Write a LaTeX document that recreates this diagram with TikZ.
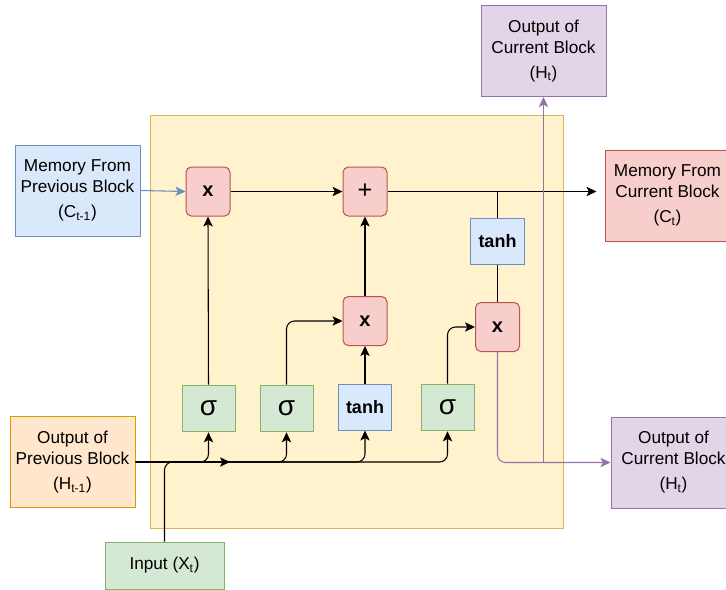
\documentclass[tikz,border=0pt]{standalone}
\usepackage{fontspec}
\setmainfont{Liberation Sans}
\usetikzlibrary{arrows.meta}
\definecolor{yfill}{HTML}{FFF2CC}
\definecolor{ydraw}{HTML}{D6B656}
\definecolor{bfill}{HTML}{DAE8FC}
\definecolor{bdraw}{HTML}{6C8EBF}
\definecolor{rfill}{HTML}{F8CECC}
\definecolor{rdraw}{HTML}{B85450}
\definecolor{gfill}{HTML}{D5E8D4}
\definecolor{gdraw}{HTML}{82B366}
\definecolor{ofill}{HTML}{FFE6CC}
\definecolor{odraw}{HTML}{D79B00}
\definecolor{pfill}{HTML}{E1D5E7}
\definecolor{pdraw}{HTML}{9673A6}
\begin{document}
\begin{tikzpicture}[x=0.75pt, y=-0.75pt,
		box/.style = {draw, line width=0.75pt, align=center, inner sep=0pt, font=\fontsize{12.9}{15.75}\selectfont},
		info/.style = {box, minimum width=93.75pt, minimum height=68.25pt},
		op/.style = {box, rounded corners=4pt, fill=rfill, draw=rdraw, minimum width=33pt, minimum height=36.75pt, font=\fontsize{15}{15}\selectfont\bfseries},
		gate/.style = {box, fill=gfill, draw=gdraw, minimum width=39.75pt, minimum height=35pt, font=\fontsize{21}{21}\selectfont},
		act/.style = {box, fill=bfill, draw=bdraw, minimum width=40pt, minimum height=34.5pt, font=\fontsize{13.5}{13.5}\selectfont\bfseries},
		arr/.style = {-{Stealth[length=7.5pt,width=7pt,inset=1.8pt]}, line width=0.8pt},
		parr/.style = {arr, draw=pdraw}]
		\useasboundingbox (0,0) rectangle (726,590);
		% cell
		\node[draw=ydraw, fill=yfill, line width=0.75pt, minimum width=309.75pt, minimum height=309.75pt] (cell) at (356.5,321.5) {};
		% inputs and outputs
		\node[info, fill=bfill, draw=bdraw] (cprev) at (77.5,190.5) {Memory From\\Previous Block\\[3pt](C\textsubscript{t-1})};
		\node[info, fill=ofill, draw=odraw] (hprev) at (72.5,462) {Output of\\Previous Block\\[3pt](H\textsubscript{t-1})};
		\node[box, fill=gfill, draw=gdraw, minimum width=89.25pt, minimum height=35.25pt] (xin) at (164.5,565.5) {Input (X\textsubscript{t})};
		\node[info, fill=rfill, draw=rdraw] (ccur) at (667.5,195.5) {Memory From\\Current Block\\[3pt](C\textsubscript{t})};
		\node[info, fill=pfill, draw=pdraw] (htop) at (543.5,51) {Output of\\Current Block\\[3pt](H\textsubscript{t})};
		\node[info, fill=pfill, draw=pdraw] (hbot) at (673.5,462.5) {Output of\\Current Block\\[3pt](H\textsubscript{t})};
		% operations
		\node[op] (mul1) at (208,191.5) {x};
		\node[op, font=\fontsize{19}{19}\selectfont] (add) at (365,191.5) {\raisebox{-2pt}{+}};
		\node[op] (mul2) at (365,321) {x};
		\node[op] (mul3) at (497.5,327) {x};
		\node[act] (tanh2) at (497.5,241) {tanh};
		% gates
		\node[gate] (sig1) at (208.5,408.5) {σ};
		\node[gate] (sig2) at (286.5,408.5) {σ};
		\node[act] (tanh1) at (365,407) {tanh};
		\node[gate] (sig3) at (447.5,407.5) {σ};
		\coordinate (mid) at (230,462);
		% connectors
		\draw[arr, draw=bdraw] (cprev.east) -- (mul1.west);
		\draw[arr] (mul1.east) -- (add.west);
		\draw[arr, shorten >=6pt] (add.east) -- (add.east -| ccur.west);
		\draw[line width=0.8pt] (tanh2.north) -- (tanh2.north |- add.east);
		\draw[line width=0.8pt] (mul3.north) -- (tanh2.south);
		\draw[arr] (sig1.north) -- (mul1.south);
		\draw[arr, rounded corners=6pt] (sig2.north) |- (mul2.west);
		\draw[arr] (tanh1.north) -- (mul2.south);
		\draw[arr] (mul2.north) -- (add.south);
		\draw[arr, rounded corners=6pt] (sig3.north) |- (mul3.west);
		\draw[arr, rounded corners=6pt] (hprev.east) -| (sig1.south);
		\draw[arr, rounded corners=6pt] (hprev.east) -| (sig2.south);
		\draw[arr, rounded corners=6pt] (hprev.east) -| (tanh1.south);
		\draw[arr, rounded corners=6pt] (hprev.east) -| (sig3.south);
		\draw[arr, rounded corners=6pt] (xin.north) |- (mid);
		\draw[parr, rounded corners=6pt] (mul3.south) |- (hbot.west);
		\draw[parr] (htop.south |- hbot.west) -- (htop.south);
\end{tikzpicture}
\end{document}
